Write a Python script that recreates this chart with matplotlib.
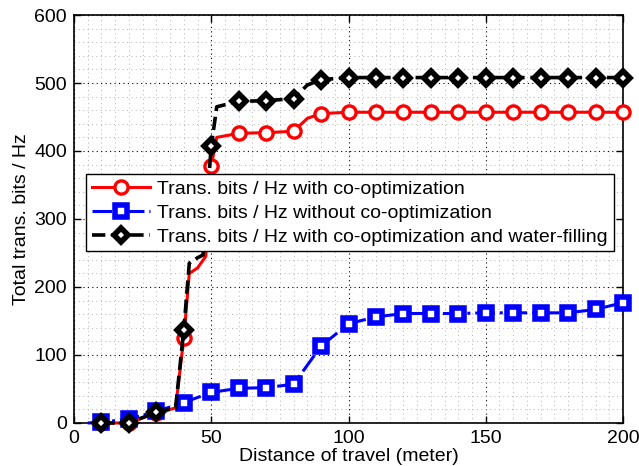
import numpy as np
import matplotlib
matplotlib.use('Agg')
import matplotlib.pyplot as plt
from matplotlib.ticker import MultipleLocator

plt.rcParams['font.family'] = ['Liberation Sans', 'DejaVu Sans']
plt.rcParams['font.size'] = 14

# data (markers every 10 m, a few extra points on the steep parts)
dist_co = [10, 20, 30, 37, 40, 42, 45, 48, 50, 52, 60, 70, 80, 85, 90,
           100, 110, 120, 130, 140, 150, 160, 170, 180, 190, 200]
bits_co = [0, 0, 15, 22, 125, 220, 228, 245, 378, 420, 426, 427, 429, 448, 455,
           457, 457, 457, 457, 457, 457, 457, 457, 457, 457, 457]

dist_wf = [10, 20, 30, 37, 40, 42, 45, 47, 50, 52, 60, 70, 80, 85, 90,
           100, 110, 120, 130, 140, 150, 160, 170, 180, 190, 200]
bits_wf = [0, 0, 16, 22, 137, 235, 243, 247, 407, 465, 473, 474, 477, 497, 505,
           508, 508, 508, 508, 508, 508, 508, 508, 508, 508, 508]

dist_no = [5, 10, 20, 30, 40, 50, 60, 70, 80, 90,
           100, 110, 120, 130, 140, 150, 160, 170, 180, 190, 200]
bits_no = [0, 1, 6, 17, 30, 45, 51, 52, 57, 113,
           146, 156, 161, 161, 161, 162, 162, 162, 162, 167, 177]

labels = ['Trans. bits / Hz with co-optimization',
          'Trans. bits / Hz without co-optimization',
          'Trans. bits / Hz with co-optimization and water-filling']


def every10(d):
    return [i for i, v in enumerate(d) if v % 10 == 0]


fig = plt.figure(figsize=(6.39, 4.66), dpi=100)
ax = fig.add_axes([0.1158, 0.0923, 0.8592, 0.8755])

ax.plot(dist_co, bits_co, '-', color='red', lw=2.2, marker='o', ms=9.5,
        mfc='white', mec='red', mew=2.4, markevery=every10(dist_co),
        clip_on=False, zorder=3, label=labels[0])
ax.plot(dist_no, bits_no, '-.', color='blue', lw=2.2, marker='s', ms=8,
        mfc='white', mec='blue', mew=4.0, markevery=every10(dist_no),
        clip_on=False, zorder=4, label=labels[1])
ax.plot(dist_wf, bits_wf, '--', color='black', lw=2.6, marker='D', ms=7.5,
        mfc='white', mec='black', mew=4.0, markevery=every10(dist_wf),
        clip_on=False, zorder=5, label=labels[2])

ax.set_xlim(0, 200)
ax.set_ylim(0, 600)
ax.set_xticks([0, 50, 100, 150, 200])
ax.set_yticks(np.arange(0, 601, 100))
ax.xaxis.set_minor_locator(MultipleLocator(5))
ax.yaxis.set_minor_locator(MultipleLocator(20))
ax.tick_params(which='major', direction='in', top=True, right=True, length=5, width=1, pad=5)
ax.tick_params(which='minor', length=0)
ax.grid(which='major', color='black', ls=(0, (1, 3)), lw=0.8)
ax.grid(which='minor', color='0.7', ls=(0, (1, 3.5)), lw=0.7)
ax.set_axisbelow(True)
for s in ax.spines.values():
    s.set_linewidth(1.2)

ax.set_xlabel('Distance of travel (meter)', labelpad=1)
ax.set_ylabel('Total trans. bits / Hz', labelpad=3)

leg = ax.legend(loc='upper left', bbox_to_anchor=(0.022, 0.61), fancybox=False,
                framealpha=1, edgecolor='black', handlelength=3.0,
                handletextpad=0.35, labelspacing=0.33, borderpad=0.3,
                borderaxespad=0)
leg.get_frame().set_linewidth(1.0)

fig.savefig('out.png', dpi=100)
